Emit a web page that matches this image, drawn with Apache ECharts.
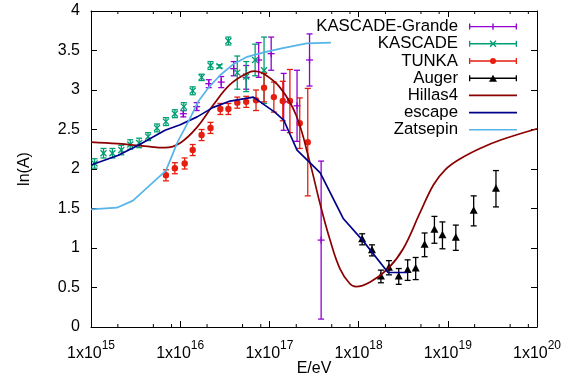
<!DOCTYPE html>
<html><head><meta charset="utf-8">
<script src="https://cdn.jsdelivr.net/npm/echarts@6/dist/echarts.min.js"></script>
<style>html,body{margin:0;padding:0;background:#fff}#c{width:566px;height:379px}</style>
</head><body><div id="c"></div>
<script>
// ---- data (energies given as log10(E/eV)) ----
const kascadeGrandeLogE = [16.035, 16.185, 16.32, 16.46, 16.6, 16.74, 16.88, 17.02, 17.16, 17.31, 17.45, 17.58];
const kascadeGrandeLnA  = [2.70, 2.79, 3.08, 3.10, 3.27, 3.16, 3.38, 3.46, 2.85, 2.80, 3.38, 1.10];
const kascadeGrandeErr  = [0.04, 0.05, 0.05, 0.07, 0.09, 0.15, 0.22, 0.21, 0.36, 0.45, 0.33, 1.00];

const kascadeLogE = [15.04, 15.14, 15.24, 15.34, 15.44, 15.54, 15.64, 15.74, 15.84, 15.94, 16.04, 16.14, 16.24, 16.34, 16.44, 16.54, 16.64, 16.74, 16.84, 16.94];
const kascadeLnA  = [2.07, 2.20, 2.20, 2.24, 2.31, 2.33, 2.41, 2.52, 2.60, 2.70, 2.79, 2.99, 3.16, 3.31, 3.30, 3.62, 3.22, 3.17, 3.38, 3.25];
const kascadeErr  = [0.06, 0.06, 0.06, 0.06, 0.06, 0.06, 0.05, 0.05, 0.05, 0.05, 0.05, 0.05, 0.04, 0.05, 0.02, 0.05, 0.21, 0.19, 0.20, 0.42];

const tunkaLogE = [15.84, 15.94, 16.05, 16.14, 16.24, 16.34, 16.45, 16.54, 16.64, 16.74, 16.85, 16.94, 17.05, 17.15, 17.23, 17.34, 17.43];
const tunkaLnA  = [1.92, 2.01, 2.07, 2.24, 2.43, 2.52, 2.76, 2.76, 2.84, 2.85, 2.87, 3.03, 2.91, 2.86, 2.86, 2.58, 2.34];
const tunkaErr  = [0.07, 0.07, 0.07, 0.07, 0.07, 0.07, 0.07, 0.07, 0.07, 0.07, 0.13, 0.18, 0.19, 0.25, 0.40, 0.32, 0.68];

const augerLogE = [18.04, 18.15, 18.25, 18.34, 18.45, 18.55, 18.64, 18.74, 18.85, 18.94, 19.09, 19.29, 19.54];
const augerLnA  = [1.11, 0.97, 0.64, 0.75, 0.64, 0.72, 0.74, 1.04, 1.23, 1.16, 1.13, 1.47, 1.75];
const augerErr  = [0.07, 0.07, 0.08, 0.09, 0.10, 0.13, 0.14, 0.15, 0.17, 0.17, 0.16, 0.19, 0.23];

const hillasLogE = [15.0, 15.3, 15.6, 15.83, 16.0, 16.19, 16.37, 16.56, 16.745, 16.83, 16.93, 17.12, 17.3, 17.45, 17.57, 17.68, 17.79, 17.90, 17.97, 18.13, 18.33, 18.5, 18.69, 18.84, 18.97, 19.14, 19.36, 19.6, 20.0];
const hillasLnA  = [2.34, 2.32, 2.29, 2.27, 2.33, 2.53, 2.81, 3.07, 3.21, 3.24, 3.21, 3.03, 2.68, 2.10, 1.55, 1.10, 0.74, 0.55, 0.51, 0.57, 0.74, 0.99, 1.45, 1.80, 1.99, 2.13, 2.26, 2.37, 2.51];

const escapeLogE = [15.0, 15.3, 15.53, 15.83, 16.0, 16.19, 16.37, 16.56, 16.82, 17.06, 17.16, 17.31, 17.57, 17.83, 18.05, 18.33, 18.55];
const escapeLnA  = [2.05, 2.17, 2.30, 2.49, 2.56, 2.66, 2.78, 2.86, 2.91, 2.72, 2.62, 2.24, 1.95, 1.37, 1.09, 0.69, 0.69];

const zatsepinLogE = [15.0, 15.29, 15.47, 15.84, 15.97, 16.1, 16.2, 16.31, 16.45, 16.6, 16.75, 16.95, 17.15, 17.42, 17.69];
const zatsepinLnA  = [1.49, 1.51, 1.60, 1.98, 2.34, 2.62, 2.85, 3.02, 3.19, 3.33, 3.42, 3.48, 3.53, 3.59, 3.60];

const xDecades = [15, 16, 17, 18, 19, 20];
const minorMultipliers = [2, 5, 8];
const seriesNames = ['KASCADE-Grande', 'KASCADE', 'TUNKA', 'Auger', 'Hillas4', 'escape', 'Zatsepin'];

// ---- helpers ----
const FONT = '"Liberation Sans", Arial, Helvetica, sans-serif';
const COLORS = {
  'KASCADE-Grande': '#9400d3', 'KASCADE': '#009e73', 'TUNKA': '#e51e10', 'Auger': '#000000',
  'Hillas4': '#8b0000', 'escape': '#00008b', 'Zatsepin': '#56b4e9'
};
function errData(logE, vals, errs) { return logE.map((l, i) => [Math.pow(10, l), vals[i], errs[i]]); }
function lineData(logE, vals) { return logE.map((l, i) => [Math.pow(10, l), vals[i]]); }

function errRender(kind, color) {
  return function (params, api) {
    const x = api.value(0), y = api.value(1), e = api.value(2);
    const c = api.coord([x, y]);
    const t = api.coord([x, y + e]);
    const b = api.coord([x, y - e]);
    const cw = 3, lw = 1.3;
    const st = { stroke: color, lineWidth: lw, fill: null };
    const ch = [
      { type: 'line', shape: { x1: c[0], y1: t[1], x2: c[0], y2: b[1] }, style: st },
      { type: 'line', shape: { x1: c[0] - cw, y1: t[1], x2: c[0] + cw, y2: t[1] }, style: st },
      { type: 'line', shape: { x1: c[0] - cw, y1: b[1], x2: c[0] + cw, y2: b[1] }, style: st }
    ];
    const cx = c[0], cy = c[1];
    if (kind === 'plus') {
      ch.push({ type: 'line', shape: { x1: cx - 3.5, y1: cy, x2: cx + 3.5, y2: cy }, style: st });
      ch.push({ type: 'line', shape: { x1: cx, y1: cy - 3.5, x2: cx, y2: cy + 3.5 }, style: st });
    } else if (kind === 'cross') {
      ch.push({ type: 'line', shape: { x1: cx - 3, y1: cy - 3, x2: cx + 3, y2: cy + 3 }, style: st });
      ch.push({ type: 'line', shape: { x1: cx - 3, y1: cy + 3, x2: cx + 3, y2: cy - 3 }, style: st });
    } else if (kind === 'circle') {
      ch.push({ type: 'circle', shape: { cx: cx, cy: cy, r: 3.2 }, style: { fill: color } });
    } else if (kind === 'triangle') {
      ch.push({ type: 'polygon', shape: { points: [[cx - 4, cy + 3], [cx, cy - 4.5], [cx + 4, cy + 3]] }, style: { fill: color } });
    }
    return { type: 'group', children: ch };
  };
}

// legend icons (54 x 10 box, 6px blank on the left)
const BOX = 'M0 0L0 0ZM54 10L54 10Z';
const BAR = 'M6 4.3H54V5.7H6ZM6 2H7.3V8H6ZM52.7 2H54V8H52.7Z';
const ICONS = {
  'KASCADE-Grande': 'path://' + BOX + BAR + 'M29.3 1.8H30.7V8.2H29.3Z',
  'KASCADE': 'path://' + BOX + BAR + 'M27.5 1.5L33.5 7.5L32.5 8.5L26.5 2.5ZM32.5 1.5L33.5 2.5L27.5 8.5L26.5 7.5Z',
  'TUNKA': 'path://' + BOX + BAR + 'M27 5A3 3 0 1 1 33 5A3 3 0 1 1 27 5Z',
  'Auger': 'path://' + BOX + BAR + 'M26 8.5L30 1.5L34 8.5Z',
  'Hillas4': 'path://' + BOX + 'M6 4.2H54V5.8H6Z',
  'escape': 'path://' + BOX + 'M6 4.2H54V5.8H6Z',
  'Zatsepin': 'path://' + BOX + 'M6 4.2H54V5.8H6Z'
};

const minorTicks = [];
xDecades.slice(0, -1).forEach(d => minorMultipliers.forEach(m => minorTicks.push([m * Math.pow(10, d), 0])));

const chart = echarts.init(document.getElementById('c'), null, { renderer: 'canvas' });

const axisCommon = {
  axisLine: { show: true, onZero: false, lineStyle: { color: '#000', width: 1 } },
  axisTick: { show: true, inside: true, length: 6, lineStyle: { color: '#000', width: 1 } },
  splitLine: { show: false }
};

const option = {
  animation: false,
  backgroundColor: '#fff',
  textStyle: { fontFamily: FONT },
  grid: { left: 91, right: 29, top: 11, bottom: 52, outerBoundsMode: 'none', containLabel: false },
  legend: {
    orient: 'vertical', right: 49, top: 18, align: 'right', padding: 0, itemGap: 0,
    itemWidth: 54, itemHeight: 10, selectedMode: false,
    textStyle: { fontFamily: FONT, fontSize: 16.8, color: '#000', lineHeight: 17.2 },
    data: seriesNames.map(n => ({ name: n, icon: ICONS[n] }))
  },
  xAxis: [
    Object.assign({
      type: 'log', logBase: 10, min: 1e15, max: 1e20, position: 'bottom',
      name: 'E/eV', nameLocation: 'middle', nameGap: 34, nameMoveOverlap: false,
      nameTextStyle: { fontFamily: FONT, fontSize: 16, color: '#000' },
      axisLabel: {
        show: true, margin: 13, showMinLabel: true, showMaxLabel: true, hideOverlap: false,
        formatter: v => '{b|1x10}{s|' + Math.round(Math.log10(v)) + '}',
        rich: {
          b: { fontFamily: FONT, fontSize: 16, color: '#000', lineHeight: 22, verticalAlign: 'bottom' },
          s: { fontFamily: FONT, fontSize: 12, color: '#000', lineHeight: 12, verticalAlign: 'top' }
        }
      }
    }, axisCommon),
    Object.assign({
      type: 'log', logBase: 10, min: 1e15, max: 1e20, position: 'top',
      axisLabel: { show: false }
    }, axisCommon)
  ],
  yAxis: [
    Object.assign({
      type: 'value', min: 0, max: 4, interval: 0.5, position: 'left',
      name: 'ln(A)', nameLocation: 'middle', nameGap: 58, nameRotate: 90, nameMoveOverlap: false,
      nameTextStyle: { fontFamily: FONT, fontSize: 16, color: '#000' },
      axisLabel: { show: true, margin: 11, fontFamily: FONT, fontSize: 16, color: '#000', showMinLabel: true, showMaxLabel: true }
    }, axisCommon),
    Object.assign({
      type: 'value', min: 0, max: 4, interval: 0.5, position: 'right',
      axisLabel: { show: false }
    }, axisCommon)
  ],
  series: [
    {
      name: 'KASCADE-Grande', type: 'custom', clip: true, itemStyle: { color: COLORS['KASCADE-Grande'] },
      data: errData(kascadeGrandeLogE, kascadeGrandeLnA, kascadeGrandeErr),
      encode: { x: 0, y: 1 }, renderItem: errRender('plus', COLORS['KASCADE-Grande'])
    },
    {
      name: 'KASCADE', type: 'custom', clip: true, itemStyle: { color: COLORS['KASCADE'] },
      data: errData(kascadeLogE, kascadeLnA, kascadeErr),
      encode: { x: 0, y: 1 }, renderItem: errRender('cross', COLORS['KASCADE'])
    },
    {
      name: 'TUNKA', type: 'custom', clip: true, itemStyle: { color: COLORS['TUNKA'] },
      data: errData(tunkaLogE, tunkaLnA, tunkaErr),
      encode: { x: 0, y: 1 }, renderItem: errRender('circle', COLORS['TUNKA'])
    },
    {
      name: 'Auger', type: 'custom', clip: true, itemStyle: { color: COLORS['Auger'] },
      data: errData(augerLogE, augerLnA, augerErr),
      encode: { x: 0, y: 1 }, renderItem: errRender('triangle', COLORS['Auger'])
    },
    {
      name: 'Hillas4', type: 'line', showSymbol: false, smooth: 0.4, clip: true,
      itemStyle: { color: COLORS['Hillas4'] }, lineStyle: { color: COLORS['Hillas4'], width: 1.7 },
      data: lineData(hillasLogE, hillasLnA)
    },
    {
      name: 'escape', type: 'line', showSymbol: false, clip: true,
      itemStyle: { color: COLORS['escape'] }, lineStyle: { color: COLORS['escape'], width: 1.7 },
      data: lineData(escapeLogE, escapeLnA)
    },
    {
      name: 'Zatsepin', type: 'line', showSymbol: false, clip: true,
      itemStyle: { color: COLORS['Zatsepin'] }, lineStyle: { color: COLORS['Zatsepin'], width: 1.7 },
      data: lineData(zatsepinLogE, zatsepinLnA)
    },
    {
      name: 'minorTicks', type: 'custom', silent: true, clip: false,
      data: minorTicks, encode: { x: 0, y: 1 },
      renderItem: function (params, api) {
        const v = api.value(0);
        const b = api.coord([v, 0]);
        const t = api.coord([v, 4]);
        const st = { stroke: '#000', lineWidth: 1 };
        return { type: 'group', children: [
          { type: 'line', shape: { x1: b[0], y1: b[1], x2: b[0], y2: b[1] - 3 }, style: st },
          { type: 'line', shape: { x1: t[0], y1: t[1], x2: t[0], y2: t[1] + 3 }, style: st }
        ] };
      }
    }
  ]
};
chart.setOption(option);
</script>
</body></html>
